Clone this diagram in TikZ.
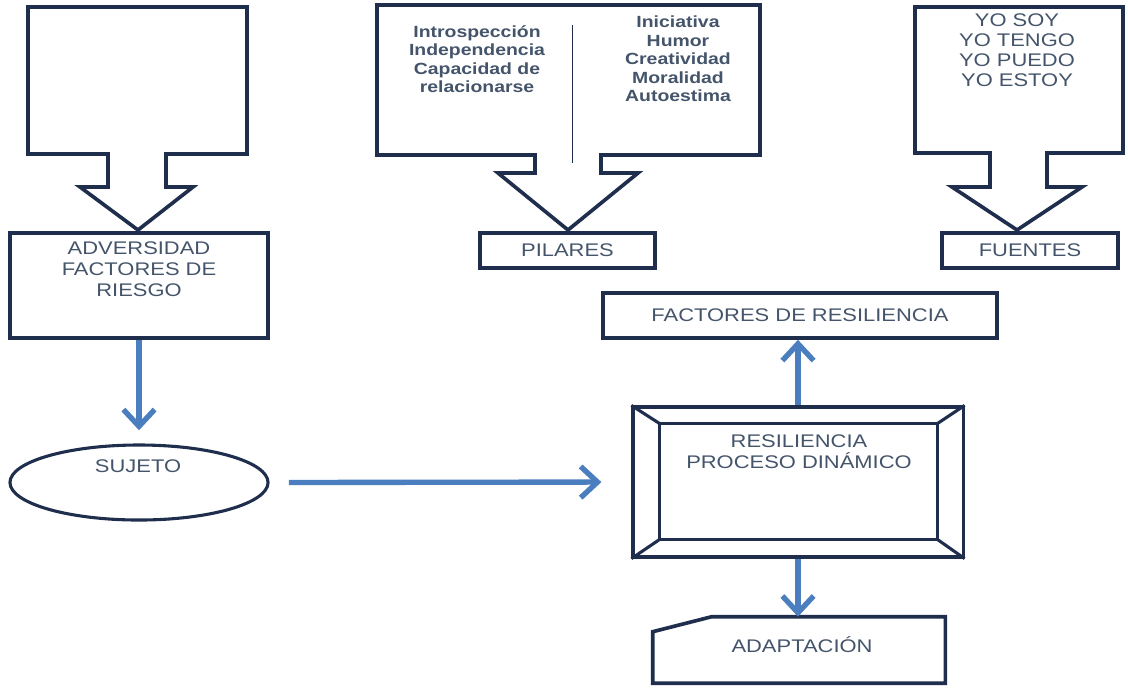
\documentclass[tikz,border=0pt]{standalone}
\usepackage{fontspec}
\setmainfont{Liberation Sans}[FakeStretch=1.2]
\usetikzlibrary{arrows.meta,positioning,shapes.geometric}
\definecolor{navy}{HTML}{1F2E4C}
\definecolor{ink}{HTML}{44546A}
\definecolor{flow}{HTML}{4A7EBF}

\begin{document}
\begin{tikzpicture}[x=0.025cm,y=-0.025cm,font=\fontsize{13}{14.9}\selectfont,text=ink,
 box/.style={draw=navy,line width=2.6pt,inner sep=0pt},
 callout/.style={draw=navy,line width=2.6pt,line join=miter},
 txt/.style={align=center,inner sep=0pt},
 pil/.style={txt,font=\fontsize{11.5}{13.2}\selectfont\bfseries},
 flowarrow/.style={draw=flow,line width=3.8pt,-{Straight Barb[length=0.42cm,width=0.78cm]}}]
\useasboundingbox (0,0) rectangle (1128,687);
\draw[callout] (28,7) -- (247,7) -- (247,154) -- (166,154) -- (166,187) -- (193,187) -- (138,230) -- (80,187) -- (108,187) -- (108,154) -- (28,154) -- cycle;
\draw[callout] (377,5) -- (760,5) -- (760,155) -- (601,155) -- (601,173) -- (638,173) -- (568,230) -- (498,173) -- (535,173) -- (535,155) -- (377,155) -- cycle;
\draw[callout] (915,7) -- (1123,7) -- (1123,153) -- (1047,153) -- (1047,187) -- (1082,187) -- (1017,230) -- (952,187) -- (990,187) -- (990,153) -- (915,153) -- cycle;
\draw[navy,line width=0.6pt] (572,25) -- (572,163);
\node[pil] (pila) at (477,59) {Introspección\\Independencia\\Capacidad de\\relacionarse};
\node[pil] (pilb) at (678,59) {Iniciativa\\Humor\\Creatividad\\Moralidad\\Autoestima};
\node[txt,font=\fontsize{13}{14.2}\selectfont] (yo) at (1017,50) {YO SOY\\YO TENGO\\YO PUEDO\\YO ESTOY};
\node[box,minimum width=6.45cm,minimum height=2.625cm] (adv) at (139,285.5) {};
\node[txt] (advt) at (139,269.5) {ADVERSIDAD\\FACTORES DE\\RIESGO};
\node[box,minimum width=4.375cm,minimum height=0.875cm] (pilr) at (567.5,250.5) {PILARES};
\node[box,minimum width=4.4cm,minimum height=0.875cm] (fue) at (1030,250.5) {FUENTES};
\node[box,minimum width=9.85cm,minimum height=1.125cm] (fac) at (800,315.5) {FACTORES DE RESILIENCIA};
\node[ellipse,draw=navy,line width=2.2pt,minimum width=6.45cm,minimum height=1.875cm,inner sep=0pt] (suj) at (139,482.5) {};
\node[txt] (sujt) at (138,466) {SUJETO};
\node[box,line width=2.2pt,minimum width=8.25cm,minimum height=3.75cm] (res) at (798,482) {};
\draw[navy,line width=2.2pt] ([shift={(28,18)}]res.north west) rectangle ([shift={(-27,-19)}]res.south east);
\foreach \c/\dx/\dy in {north west/28/18,north east/-27/18,south east/-27/-19,south west/28/-19}
 \draw[navy,line width=2.2pt] (res.\c) -- ([shift={(\dx,\dy)}]res.\c);
\node[txt] (rest) at (799,452) {RESILIENCIA\\PROCESO DINÁMICO};
\node[minimum width=7.3cm,minimum height=1.65cm,inner sep=0pt] (ada) at (799,650) {};
\draw[box] (ada.south west) -- ([shift={(0,15)}]ada.north west) -- ([shift={(59,0)}]ada.north west) -- (ada.north east) -- (ada.south east) -- cycle;
\node[txt] (adat) at (802,645) {ADAPTACIÓN};
\draw[flowarrow,shorten >=0.33cm] (adv.south) -- (suj.north);
\draw[flowarrow,shorten <=0.48cm,shorten >=0.75cm] (suj.east) -- (res.west);
\draw[flowarrow] (res.north) -- (res.north |- fac.south);
\draw[flowarrow] (res.south) -- (res.south |- ada.north);
\end{tikzpicture}
\end{document}
